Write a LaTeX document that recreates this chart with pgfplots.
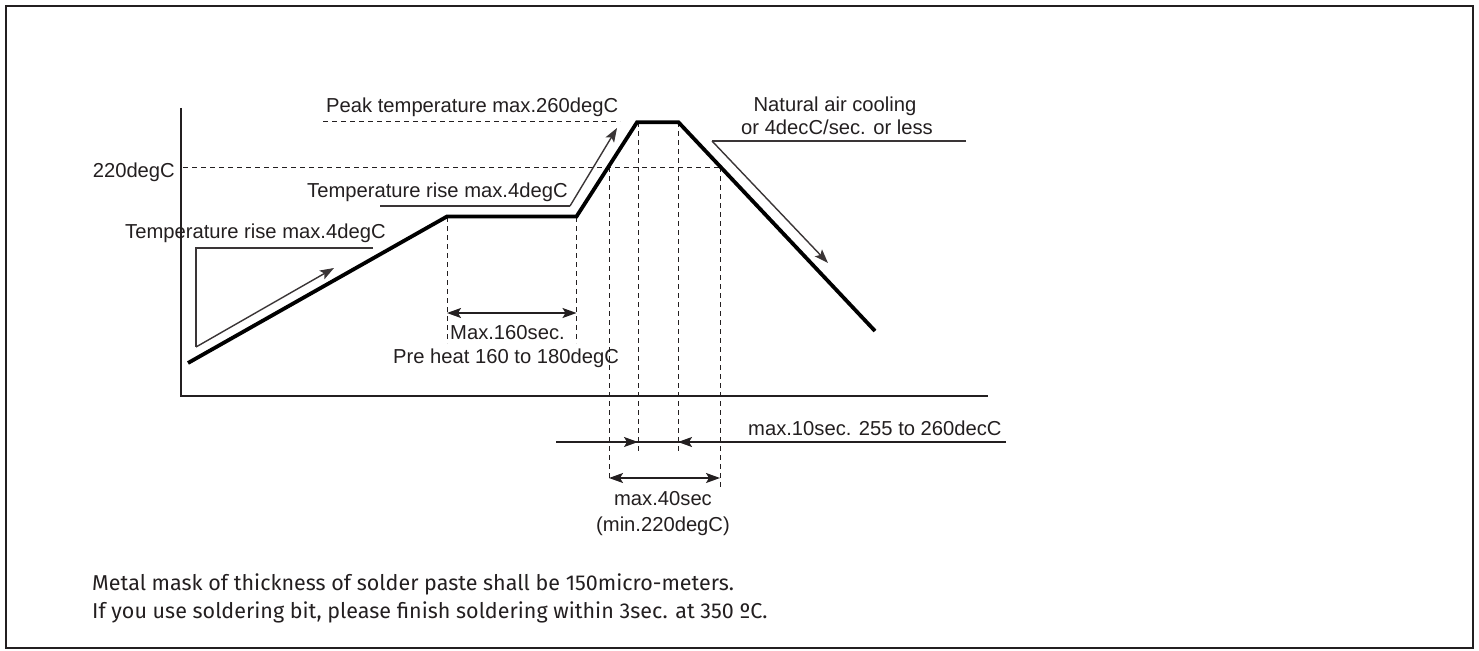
\documentclass[border=0pt]{standalone}
\usepackage{fontspec}
\setmainfont{Liberation Sans}
\newfontfamily\notefont{Fira Sans}
\usepackage{pgfplots}
\pgfplotsset{compat=1.18}
\usetikzlibrary{arrows.meta}

\definecolor{ink}{HTML}{231F20}
\definecolor{lead}{HTML}{3A3536}

\pgfplotsset{
  guide/.style={no markers, color=ink, line width=1pt, dash pattern=on 5pt off 4pt},
  leader/.style={no markers, color=lead, line width=1.4pt},
  tip/.style={-{Stealth[length=14pt,width=10pt,inset=3pt]}},
  tips/.style={{Stealth[length=14pt,width=10pt,inset=3pt]}-{Stealth[length=14pt,width=10pt,inset=3pt]}},
}

\begin{document}
\begin{tikzpicture}
\begin{axis}[
  width=1479pt, height=650pt, scale only axis,
  xmin=0, xmax=1479, ymin=0, ymax=650, y dir=reverse,
  hide axis, clip=false,
]
% page area and frame
\path (0,0) rectangle (1479,650);
\draw[ink, line width=2pt] (6,6) rectangle (1473,647.5);

% axes of the sketch
\addplot[no markers, color=ink, line width=1.6pt] coordinates {(181,108) (181,396) (988,396)};

% dashed guides
\addplot[guide] coordinates {(323,121.5) (620,121.5)};
\addplot[guide] coordinates {(183,167) (720,167)};
\addplot[guide] coordinates {(447,217) (447,343)};
\addplot[guide] coordinates {(576.5,217) (576.5,343)};
\addplot[guide] coordinates {(609,167) (609,478)};
\addplot[guide] coordinates {(638,122) (638,453)};
\addplot[guide] coordinates {(678,122) (678,453)};
\addplot[guide] coordinates {(720,167) (720,490)};

% temperature profile
\addplot[no markers, color=black, line width=3.8pt, line join=miter] coordinates {
  (188,363) (447,216.5) (576.5,216.5) (637,122.3) (678.5,122.3) (875,331)
};

% leaders with arrows
\addplot[leader] coordinates {(373,248) (196,248) (196,347)};
\addplot[leader, tip] coordinates {(196,347) (334,268)};
\addplot[leader] coordinates {(380,206) (570,206)};
\addplot[leader, tip] coordinates {(570,206) (617,128)};
\addplot[leader] coordinates {(966,141) (712,141)};
\addplot[leader, tip] coordinates {(712,141) (828,263)};

% dimension arrows
\addplot[leader, color=ink, tips] coordinates {(447,313) (576.5,313)};
\addplot[leader, color=ink, tips] coordinates {(609,478) (720,478)};
\addplot[leader, color=ink] coordinates {(556,442) (1006,442)};
\addplot[leader, color=ink, tip] coordinates {(556,442) (638,442)};
\addplot[leader, color=ink, tip] coordinates {(1006,442) (678,442)};

% labels
\begin{scope}[every node/.style={inner sep=0pt, text=ink, font=\fontsize{20.2}{23}\selectfont}]
\node[anchor=base west] at (326,113) {Peak temperature max.260degC};
\node[anchor=base east] at (175,177) {220degC};
\node[anchor=base west] at (307,197) {Temperature rise max.4degC};
\node[anchor=base west] at (125,238) {Temperature rise max.4degC};
\node[anchor=base] at (835,112) {Natural air cooling};
\node[anchor=base] at (837,135) {or 4decC/sec. or less};
\node[anchor=base west] at (450,339) {Max.160sec.};
\node[anchor=base west] at (393,363) {Pre heat 160 to 180degC};
\node[anchor=base west] at (748,435) {max.10sec. 255 to 260decC};
\node[anchor=base] at (663,505) {max.40sec};
\node[anchor=base] at (663,531) {(min.220degC)};
\end{scope}

\begin{scope}[every node/.style={inner sep=0pt, text=ink, font=\notefont\fontsize{21.5}{26}\selectfont}]
\node[anchor=base west] at (92,590) {Metal mask of thickness of solder paste shall be 150micro-meters.};
\node[anchor=base west] at (92,618) {If you use soldering bit, please finish soldering within 3sec. at 350 ºC.};
\end{scope}
\end{axis}
\end{tikzpicture}
\end{document}
